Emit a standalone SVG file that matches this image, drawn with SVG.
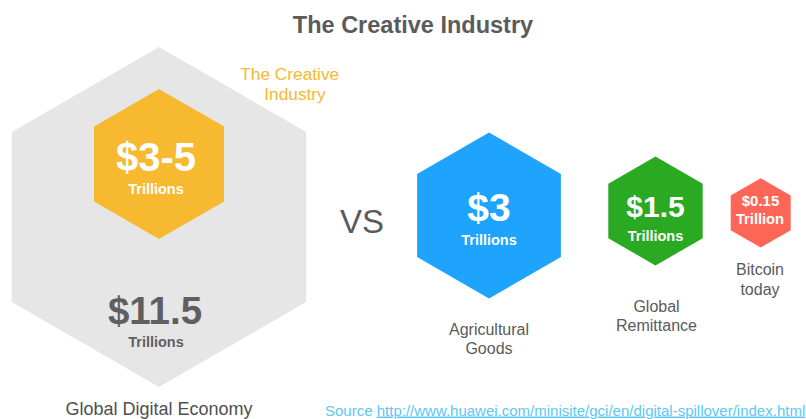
<svg xmlns="http://www.w3.org/2000/svg" width="806" height="419" viewBox="0 0 806 419">
<style>
text{font-family:"Liberation Sans",Arial,sans-serif}
.val{fill:#fff;font-weight:bold;text-anchor:middle}
.lab{fill:#5a5a5a;font-size:16px;text-anchor:middle}
</style>
<rect width="806" height="419" fill="#fff"/>
<text x="413" y="33" font-size="23.5" font-weight="bold" fill="#5b5b5b" text-anchor="middle">The Creative Industry</text>
<g id="global-digital-economy">
<polygon points="159,47 306.2,132 306.2,302 159,387 11.8,302 11.8,132" fill="#e6e6e6"/>
<text x="155" y="324" font-size="38.5" font-weight="bold" fill="#5f5f5f" text-anchor="middle">$11.5</text>
<text x="156" y="347" font-size="14.5" font-weight="bold" fill="#5f5f5f" text-anchor="middle">Trillions</text>
<text x="159" y="414.5" font-size="18" fill="#4f4f4f" text-anchor="middle">Global Digital Economy</text>
</g>
<g id="creative-industry">
<polygon points="159,89 224,126.5 224,201.5 159,239 94,201.5 94,126.5" fill="#f6b92f"/>
<text class="val" x="156" y="171" font-size="40">$3-5</text>
<text class="val" x="156" y="194" font-size="14.5">Trillions</text>
<text x="289.7" y="80" font-size="17.3" fill="#f6b92f" text-anchor="middle">The Creative</text>
<text x="295" y="100" font-size="17.3" fill="#f6b92f" text-anchor="middle">Industry</text>
</g>
<text x="362" y="233" font-size="33" fill="#5a5a5a" text-anchor="middle">VS</text>
<g id="agricultural-goods">
<polygon points="489,132.5 560.9,174 560.9,257 489,298.5 417.1,257 417.1,174" fill="#1ea4fc"/>
<text class="val" x="489" y="221" font-size="39">$3</text>
<text class="val" x="489" y="245" font-size="14.5">Trillions</text>
<text class="lab" x="489" y="335">Agricultural</text>
<text class="lab" x="489" y="354">Goods</text>
</g>
<g id="global-remittance">
<polygon points="655.5,156.5 702.7,183.75 702.7,238.25 655.5,265.5 608.3,238.25 608.3,183.75" fill="#2aaa22"/>
<text class="val" x="655.5" y="217" font-size="30">$1.5</text>
<text class="val" x="655.5" y="241" font-size="14.5">Trillions</text>
<text class="lab" x="656.5" y="312">Global</text>
<text class="lab" x="656.5" y="331">Remittance</text>
</g>
<g id="bitcoin-today">
<polygon points="760.7,178.3 790.7,195.6 790.7,230.2 760.7,247.5 730.7,230.2 730.7,195.6" fill="#fd6657"/>
<text class="val" x="760.5" y="206" font-size="15">$0.15</text>
<text class="val" x="760" y="224" font-size="14.7">Trillion</text>
<text class="lab" x="760" y="275">Bitcoin</text>
<text class="lab" x="760" y="295">today</text>
</g>
<g id="connectors"/>
<text x="325" y="415.5" font-size="15" fill="#5ac8fa">Source <tspan text-decoration="underline">http://www.huawei.com/minisite/gci/en/digital-spillover/index.html</tspan></text>
</svg>
